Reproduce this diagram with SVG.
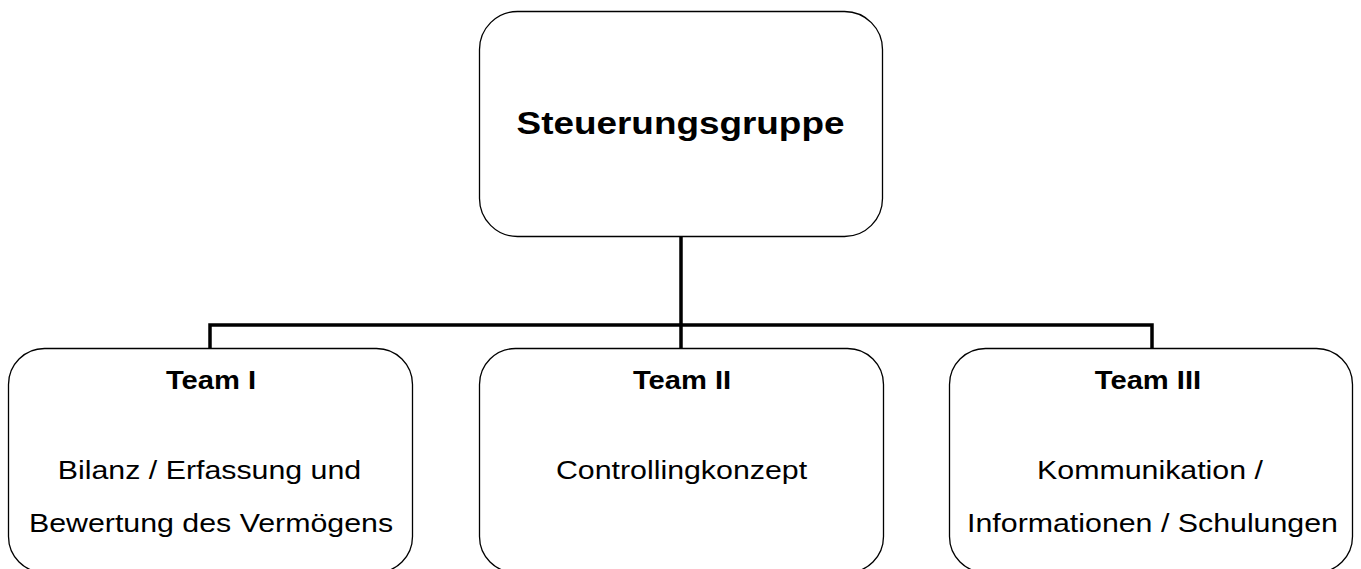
<svg xmlns="http://www.w3.org/2000/svg" width="1361" height="569" viewBox="0 0 1361 569">
<style>
.box{fill:#fff;stroke:#000;stroke-width:1.3}
.con{fill:none;stroke:#000;stroke-width:3.5;stroke-linecap:square}
.t{font-family:"Liberation Sans",Arial,sans-serif;text-anchor:middle;fill:#000;font-size:26.5px}
.b{font-weight:bold}
.h{font-weight:bold;font-size:31px}
</style>
<g id="connectors">
<path class="con" d="M681 237V325M210 325H1152M210 325V347M681 325V347M1152 325V347"/>
</g>
<g id="steuerungsgruppe">
<rect class="box" x="479.5" y="11.5" width="403" height="225" rx="38"/>
<text class="t h" transform="translate(680.5 134) scale(1.19 1)">Steuerungsgruppe</text>
</g>
<g id="team1">
<rect class="box" x="8.5" y="348.5" width="404" height="224" rx="36"/>
<text class="t b" transform="translate(211 389) scale(1.1 1)">Team I</text>
<text class="t" transform="translate(209.5 479) scale(1.145 1)">Bilanz / Erfassung und</text>
<text class="t" transform="translate(211 532) scale(1.145 1)">Bewertung des Vermögens</text>
</g>
<g id="team2">
<rect class="box" x="479.5" y="348.5" width="404" height="224" rx="36"/>
<text class="t b" transform="translate(682 389) scale(1.1 1)">Team II</text>
<text class="t" transform="translate(681.5 479) scale(1.145 1)">Controllingkonzept</text>
</g>
<g id="team3">
<rect class="box" x="949.5" y="348.5" width="403" height="224" rx="36"/>
<text class="t b" transform="translate(1148 389) scale(1.1 1)">Team III</text>
<text class="t" transform="translate(1150 479) scale(1.145 1)">Kommunikation /</text>
<text class="t" transform="translate(1152.5 532) scale(1.145 1)">Informationen / Schulungen</text>
</g>
</svg>
